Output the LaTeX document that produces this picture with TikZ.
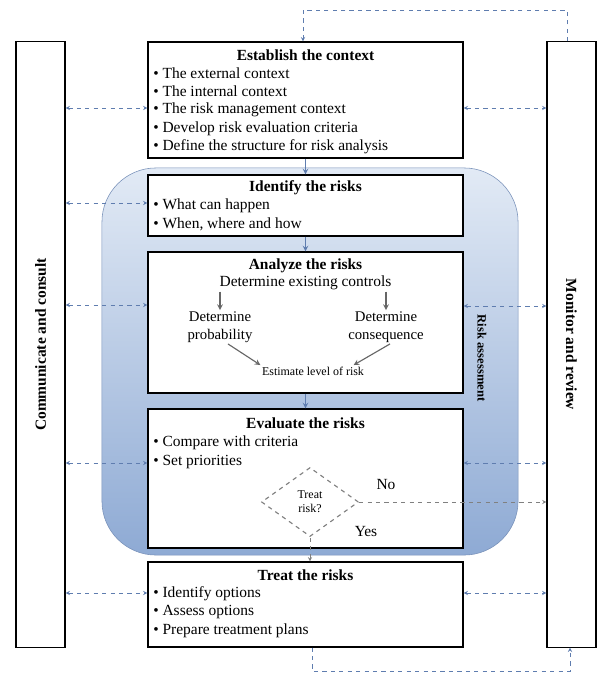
\documentclass[tikz,border=0pt]{standalone}
\usepackage{fontspec}
\setmainfont{Liberation Serif}
\usepackage{xcolor}
\usepackage{tikz}
\usetikzlibrary{shapes.geometric, arrows}
\definecolor{linkblue}{RGB}{95,125,175}
\definecolor{zonetop}{RGB}{226,234,245}
\definecolor{zonebot}{RGB}{142,170,212}
\definecolor{zoneedge}{RGB}{120,145,185}
\tikzstyle{stagebox} = [draw, thick, fill=white, minimum width=7.875cm, inner sep=0]
\tikzstyle{sidebox} = [draw, thick, fill=white, minimum width=1.225cm, minimum height=15.125cm]
\tikzstyle{boxtitle} = [inner sep=0, font=\bfseries\fontsize{11}{13}\selectfont]
\tikzstyle{bulletitem} = [anchor=west, inner sep=0, font=\fontsize{11}{13}\selectfont]
\tikzstyle{commlink} = [dashed, linkblue, <->, >=stealth]
\tikzstyle{stepflow} = [linkblue, thick, ->, >=stealth]
\tikzstyle{grayarrow} = [gray!80!black, thick, ->, >=stealth]

\begin{document}
\begin{tikzpicture}[x=0.025cm, y=-0.025cm]
\useasboundingbox (0,0) rectangle (597,675);

% risk assessment zone, behind the stages
\node[draw=zoneedge, top color=zonetop, bottom color=zonebot, rounded corners=1.35cm,
      minimum width=10.4cm, minimum height=9.675cm] (zone) at (310,361.5) {};
\node[rotate=-90, inner sep=0, font=\bfseries\fontsize{9}{10}\selectfont] (riskas) at (482,358) {Risk assessment};

% side columns
\node[sidebox] (comm) at (40.5,344.5) {};
\node[rotate=90, boxtitle] (commtxt) at (comm) {Communicate and consult};
\node[sidebox] (mon) at (571.5,344.5) {};
\node[rotate=-90, boxtitle] (montxt) at (mon) {Monitor and review};

% stages
\node[stagebox, minimum height=2.9cm] (ctx) at (305.5,100) {};
\node[boxtitle] (ctxt) at (305.5,55) {Establish the context};
\foreach \t [count=\i] in {The external context, The internal context, The risk management context,
    Develop risk evaluation criteria, Define the structure for risk analysis}
  \node[bulletitem] (ctx-\i) at (153,54.5+18.5*\i) {\textbullet\ \t};

\node[stagebox, minimum height=1.525cm] (ident) at (305.5,205.5) {};
\node[boxtitle] (identt) at (305.5,188) {Identify the risks};
\foreach \t [count=\i] in {What can happen, {When, where and how}}
  \node[bulletitem] (ident-\i) at (153,187.5+18.5*\i) {\textbullet\ \t};

\node[stagebox, minimum height=3.525cm] (anal) at (305.5,322.5) {};
\node[boxtitle] (analt) at (305.5,266) {Analyze the risks};
\node[inner sep=1pt, font=\fontsize{11}{13}\selectfont] (ctrl) at (305.5,283) {Determine existing controls};
\node[align=center, inner sep=1pt, font=\fontsize{10.5}{12.5}\selectfont] (prob) at (220,327) {Determine\\probability};
\node[align=center, inner sep=1pt, font=\fontsize{10.5}{12.5}\selectfont] (cons) at (386,327) {Determine\\consequence};
\node[inner sep=1pt, font=\fontsize{8.5}{10}\selectfont] (estim) at (313,371) {Estimate level of risk};
\draw[grayarrow] (prob.north |- ctrl.south) -- (prob.north);
\draw[grayarrow] (cons.north |- ctrl.south) -- (cons.north);
\draw[grayarrow] ([xshift=2mm]prob.south) -- (estim.north west);
\draw[grayarrow] ([xshift=1mm]cons.south) -- ([xshift=-3mm]estim.north east);

\node[stagebox, minimum height=3.475cm] (eval) at (305.5,478.5) {};
\node[boxtitle] (evalt) at (305.5,423) {Evaluate the risks};
\foreach \t [count=\i] in {Compare with criteria, Set priorities}
  \node[bulletitem] (eval-\i) at (153,423+19.5*\i) {\textbullet\ \t};
\node[diamond, draw=gray, dashed, thick, minimum width=2.425cm, minimum height=1.725cm,
      inner sep=0, align=center, font=\fontsize{8.5}{10}\selectfont] (decide) at (310,502) {Treat\\risk?};
\node[font=\fontsize{11}{13}\selectfont] (no) at (386,485) {No};
\node[font=\fontsize{11}{13}\selectfont] (yes) at (366,532) {Yes};

\node[stagebox, minimum height=2.125cm] (treat) at (305.5,604.5) {};
\node[boxtitle] (treatt) at (305.5,575) {Treat the risks};
\foreach \t [count=\i] in {Identify options, Assess options, Prepare treatment plans}
  \node[bulletitem] (treat-\i) at (153,575.5+18.5*\i) {\textbullet\ \t};

% flow between stages
\draw[stepflow] (ctx.south) -- (ident.north);
\draw[stepflow] (ident.south) -- (anal.north);
\draw[stepflow] (anal.south) -- (eval.north);
\draw[commlink, <-, gray] (decide.south |- treat.north) -- (decide.south);
\draw[commlink, ->, gray] (decide.east) -- (mon.west |- decide.east);

% links to the side columns
\foreach \b/\y in {ctx/108, ident/203, anal/305, eval/463, treat/593}
  \draw[commlink] (comm.east |- 0,\y) -- (\b.west |- 0,\y);
\foreach \b/\y in {ctx/108, anal/306, eval/463, treat/593}
  \draw[commlink] (\b.east |- 0,\y) -- (mon.west |- 0,\y);

% feedback loops
\coordinate (topL) at (303,10);
\coordinate (topR) at (567,10);
\draw[commlink, ->] (topR |- mon.north) -- (topR) -- (topL) -- (topL |- ctx.north);
\coordinate (botL) at (312,671);
\coordinate (botR) at (570,671);
\draw[commlink, ->] (botL |- treat.south) -- (botL) -- (botR) -- (botR |- mon.south);
\end{tikzpicture}
\end{document}
